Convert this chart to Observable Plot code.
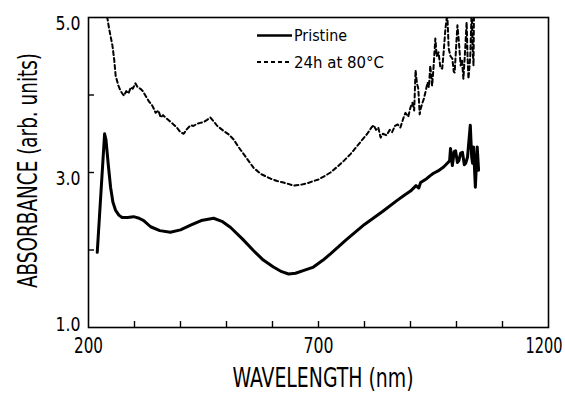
<!DOCTYPE html>
<html><head><meta charset="utf-8">
<script src="https://cdn.jsdelivr.net/npm/d3@7"></script>
<script src="https://cdn.jsdelivr.net/npm/@observablehq/plot@0.6"></script>
<style>
body{margin:0;background:#fff;}
#chart svg{display:block;}
</style></head><body><div id="chart"></div>
<script>
// Pristine spectrum
const pristineWavelength = [219,235,238,243,248,253,259,266,273,285,298,310,320,335,355,378,400,422,445,472,490,509,535,559,580,602,620,635,650,670,689,710,726,760,800,840,871,885,900,912,918,922,935,943,950,960,972,980,985,987,991,995,998,1002,1005,1009,1013,1017,1020,1024,1030,1033,1035,1037,1041,1045,1048];
const pristineAbsorbance = [1.97,3.50,3.42,3.10,2.81,2.62,2.51,2.45,2.42,2.42,2.43,2.41,2.38,2.30,2.25,2.23,2.26,2.32,2.38,2.41,2.37,2.29,2.14,1.99,1.87,1.78,1.72,1.69,1.70,1.74,1.78,1.87,1.95,2.13,2.33,2.50,2.64,2.70,2.76,2.83,2.80,2.87,2.92,2.96,2.99,3.02,3.07,3.12,3.15,3.31,3.09,3.27,3.28,3.13,3.15,3.25,3.26,3.10,3.12,3.20,3.61,3.20,3.12,3.33,2.81,3.33,3.03];
// Heated spectrum (24h at 80 °C)
const heatedWavelength = [238,245,252,256,259,265,270,277,282,287,292,296,302,307,313,318,324,331,339,346,352,357,362,367,375,383,392,400,407,414,422,428,436,443,450,458,465,472,480,493,505,515,526,537,548,559,575,596,610,624,636,646,660,675,689,700,715,726,740,755,770,788,806,815,820,825,830,835,840,848,855,860,866,872,878,885,889,895,900,904,908,911,914,917,920,922,926,929,933,937,940,943,947,950,954,957,961,965,969,972,976,980,983,987,991,994,996,999,1002,1005,1009,1012,1015,1019,1022,1024,1026,1028,1030,1033,1035,1037,1038];
const heatedAbsorbance = [5.10,4.85,4.64,4.45,4.25,4.12,4.05,3.99,4.05,4.02,4.10,4.08,4.15,4.10,4.08,4.05,3.99,3.92,3.86,3.77,3.80,3.71,3.74,3.71,3.67,3.63,3.58,3.52,3.50,3.56,3.61,3.60,3.63,3.64,3.65,3.68,3.71,3.66,3.60,3.54,3.49,3.43,3.33,3.24,3.15,3.06,2.98,2.92,2.89,2.87,2.85,2.83,2.84,2.86,2.89,2.91,2.96,3.00,3.07,3.15,3.24,3.37,3.50,3.58,3.61,3.55,3.58,3.45,3.50,3.48,3.55,3.52,3.60,3.62,3.58,3.71,3.77,3.72,3.84,3.90,3.80,4.32,4.15,4.08,3.75,3.82,3.90,3.95,4.05,4.16,4.10,4.38,4.12,4.35,4.73,4.50,4.55,4.35,4.34,4.55,4.86,5.05,4.60,4.50,4.47,4.30,4.29,4.60,4.90,4.70,4.38,4.45,4.21,4.60,4.94,4.50,4.21,4.35,4.51,5.10,4.60,4.38,5.10];

const seriesNames = ["Pristine", "24h at 80°C"];
const xTickValues = [300,400,500,600,700,800,900,1000,1100];
const xTickLabels = [200,700,1200];
const yTickValues = [2,3,4];
const yTickLabels = [1.0,3.0,5.0];
const xAxisTitle = "WAVELENGTH (nm)";
const yAxisTitle = "ABSORBANCE (arb. units)";

const pristine = pristineWavelength.map((x,i)=>({x, y: pristineAbsorbance[i]}));
const heated = heatedWavelength.map((x,i)=>({x, y: heatedAbsorbance[i]}));

const font = '"DejaVu Sans Condensed","DejaVu Sans",sans-serif';

const chart = Plot.plot({
  width:565, height:395,
  marginLeft:88, marginRight:17, marginTop:17, marginBottom:68,
  style:{fontFamily:font, fontStretch:"condensed", background:"#fff", color:"#000"},
  x:{domain:[200,1200]},
  y:{domain:[1,5]},
  marks:[
    Plot.axisX(xTickValues, {tickSize:-6, tickFormat:()=>"", strokeWidth:1.4, label:null}),
    Plot.axisY(yTickValues, {tickSize:-6, tickFormat:()=>"", strokeWidth:1.4, label:null}),
    Plot.text(xTickLabels.filter(d=>d<1200), {x:d=>d, text:d=>String(d), frameAnchor:"bottom", lineAnchor:"top", dy:11, fontSize:20.5, fill:"#000"}),
    Plot.text(xTickLabels.filter(d=>d===1200), {x:d=>d, text:d=>String(d), frameAnchor:"bottom", lineAnchor:"top", dx:-4.5, dy:11, fontSize:20.5, fill:"#000"}),
    Plot.text(yTickLabels.filter(d=>d>1), {y:d=>d, text:d=>d.toFixed(1), frameAnchor:"left", textAnchor:"end", lineAnchor:"top", dx:-8, dy:-1, fontSize:19, fill:"#000"}),
    Plot.text(yTickLabels.filter(d=>d===1), {y:d=>d, text:d=>d.toFixed(1), frameAnchor:"left", textAnchor:"end", lineAnchor:"top", dx:-8, dy:-11, fontSize:20, fill:"#000"}),
    Plot.line(heated, {x:"x", y:"y", stroke:"#000", strokeWidth:2, strokeDasharray:"4,3", clip:true}),
    Plot.line(pristine, {x:"x", y:"y", stroke:"#000", strokeWidth:3, strokeLinejoin:"round", clip:true}),
    Plot.frame({stroke:"#000", strokeWidth:1.6}),
    Plot.text([xAxisTitle], {text:d=>d, frameAnchor:"bottom", textAnchor:"middle", lineAnchor:"top", dx:4.5, dy:41, fontSize:26, fill:"#000"}),
    Plot.text([yAxisTitle], {text:d=>d, frameAnchor:"left", textAnchor:"middle", lineAnchor:"top", rotate:-90, dx:-71, dy:-2, fontSize:27, fill:"#000"})
  ]
});

// Fit text widths to the reference's condensed lettering
const svg = d3.select(chart);
const widths = new Map([["5.0",25],["3.0",25],["1.0",25],["200",29],["700",30],["1200",37],[xAxisTitle,181],[yAxisTitle,235]]);
svg.selectAll("text").each(function(){
  const t = this.textContent;
  if (widths.has(t)) d3.select(this).attr("textLength", widths.get(t)).attr("lengthAdjust","spacingAndGlyphs");
});

// Legend drawn inside the frame
const legend = svg.append("g").attr("font-family", font).attr("font-stretch","condensed").attr("font-size", 16).attr("fill", "#000").attr("text-anchor","start");
const legendRows = [{name: seriesNames[0], dash: null, width: 2.5, len: 53}, {name: seriesNames[1], dash: "4,3", width: 2, len: 90}];
legendRows.forEach((r, i) => {
  const cy = 35.5 + i * 26.5;
  legend.append("line").attr("x1", 257).attr("x2", 292).attr("y1", cy).attr("y2", cy)
    .attr("stroke", "#000").attr("stroke-width", r.width).attr("stroke-dasharray", r.dash);
  legend.append("text").attr("x", 294).attr("y", cy + 5.5).attr("textLength", r.len).attr("lengthAdjust","spacingAndGlyphs").text(r.name);
});

document.getElementById("chart").appendChild(chart);
</script>
</body></html>
